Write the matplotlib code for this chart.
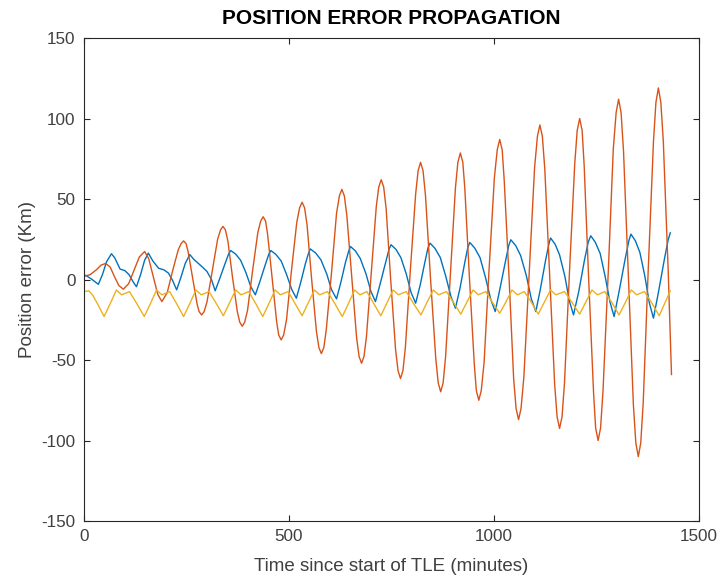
import matplotlib
matplotlib.use("Agg")
import matplotlib.pyplot as plt

plt.rcParams["font.family"] = ["Liberation Sans", "DejaVu Sans"]
plt.rcParams["axes.unicode_minus"] = False

# (time in minutes, position error in km)
blue_pts = [
    (0, 3), (8, 2), (20, 0), (35, -3), (45, 3), (55, 11), (67, 16), (75, 13.5),
    (88, 6.5), (100, 5.5), (110, 3), (120, -1.5), (128, -4.5), (138, 3), (148, 12),
    (157, 16.4), (168, 11.5), (182, 7), (195, 6), (206, 4), (216, -0.5), (226, -6.4),
    (236, 1), (247, 10), (258, 15.5), (268, 12.5), (279, 10), (290, 7.5), (300, 5),
    (311, 0), (320, -7),
    (331, 0.5), (345, 10.5), (353, 16), (358, 18),
    (370, 15.8), (382, 12), (395, 4.3), (407, -4.5), (418, -9.5),
    (429, -1.3), (443, 9.8), (451, 15.8), (456, 18),
    (468, 15.6), (481, 11.5), (494, 3.2), (507, -6.3), (518, -11.6),
    (528, -2.4), (540, 9.8), (548, 16.6), (552, 19),
    (565, 16.5), (578, 12.2), (592, 3.5), (604, -6.4), (616, -12),
    (626, -2.3), (638, 10.8), (646, 17.9), (650, 20.5),
    (662, 17.8), (674, 13), (688, 3.4), (700, -7.5), (711, -13.7),
    (722, -3.1), (736, 11), (744, 18.8), (749, 21.6),
    (761, 18.7), (773, 13.6), (786, 3.5), (798, -8.2), (809, -14.7),
    (820, -3.5), (832, 11.4), (839, 19.6), (844, 22.6),
    (856, 19.4), (869, 13.7), (882, 2.4), (895, -10.5), (906, -17.8),
    (917, -5.6), (929, 10.8), (936, 19.7), (941, 23),
    (953, 19.6), (966, 13.6), (979, 1.6), (992, -12.2), (1003, -19.9),
    (1014, -6.5), (1028, 11.3), (1036, 21.1), (1041, 24.7),
    (1053, 21.1), (1065, 14.9), (1079, 2.4), (1091, -11.9), (1102, -19.9),
    (1113, -6.2), (1126, 12.1), (1134, 22.1), (1138, 25.8),
    (1149, 22), (1160, 15.3), (1173, 1.9), (1184, -13.4), (1194, -22),
    (1207, -7.2), (1221, 12.4), (1230, 23.3), (1236, 27.2),
    (1247, 23.2), (1259, 16.2), (1271, 2.1), (1283, -14), (1293, -23),
    (1305, -7.6), (1320, 12.8), (1329, 24.1), (1334, 28.2),
    (1345, 24), (1356, 16.7), (1368, 2.1), (1379, -14.6), (1389, -24),
    (1401, -8.1), (1416, 13.1), (1425, 24.8), (1430, 29),
]

orange_pts = [
    (0, 2), (15, 3), (30, 6), (42, 9), (53, 10),
    (64, 7.7), (74, 2), (85, -3.7), (96, -6),
    (109, -2.6), (122, 5.7), (135, 14), (148, 17.4),
    (158, 12.9), (169, 1.9), (180, -9.2), (190, -13.7),
    (203, -8.2), (216, 5.2), (230, 18.5), (237, 22.3), (243, 24), (249, 22.3),
    (254, 17.3), (265, 1), (276, -15.3), (281, -20), (287, -22), (293, -20),
    (300, -14), (313, 5.5), (326, 25), (333, 30.8), (339, 33), (345, 30.8),
    (351, 23.9), (362, 2), (374, -19.9), (380, -26.5), (386, -29), (392, -26.5),
    (399, -19.1), (411, 5), (424, 29.1), (431, 36.3), (437, 39), (443, 36.3),
    (448, 27.8), (459, 0.8), (470, -26.3), (475, -34.5), (481, -37.5), (487, -34.5),
    (494, -25), (506, 5.3), (519, 35.5), (526, 44.6), (532, 48), (538, 44.6),
    (544, 34.3), (555, 1), (567, -32.3), (573, -42.3), (579, -46), (585, -42.3),
    (591, -31.1), (604, 5), (616, 41.1), (623, 52), (629, 56), (635, 52),
    (641, 40.2), (653, 2), (665, -36.2), (671, -47.8), (677, -52), (683, -47.8),
    (689, -35.4), (701, 5), (713, 45.4), (719, 57.5), (725, 62), (731, 57.5),
    (737, 44), (748, 0.3), (760, -43.5), (766, -56.6), (772, -61.5), (778, -56.6),
    (784, -41.9), (796, 5.7), (809, 53.2), (815, 67.6), (821, 72.8), (827, 67.6),
    (833, 52), (845, 1.6), (858, -48.9), (864, -64.2), (870, -69.7), (876, -64.2),
    (882, -48), (894, 4.5), (906, 56.9), (912, 72.9), (918, 78.6), (924, 72.9),
    (929, 56.2), (940, 1.8), (952, -52.6), (957, -69), (963, -75), (969, -69),
    (976, -51.3), (988, 6), (1001, 63.3), (1008, 80.6), (1014, 87), (1020, 80.6),
    (1025, 61.6), (1037, 0), (1048, -61.6), (1054, -80.2), (1060, -87), (1066, -80.2),
    (1073, -60.3), (1086, 4.5), (1099, 69.3), (1106, 89), (1112, 96), (1118, 89),
    (1124, 68.5), (1136, 1.8), (1148, -65), (1154, -85.3), (1160, -92.5), (1166, -85.3),
    (1172, -64.4), (1184, 3.8), (1197, 71.9), (1203, 92.6), (1209, 100), (1215, 92.6),
    (1220, 70.8), (1231, 0), (1243, -70.8), (1248, -92.2), (1254, -100), (1260, -92.2),
    (1266, -69), (1279, 6), (1291, 81), (1298, 103.8), (1304, 112), (1310, 103.8),
    (1316, 79.6), (1328, 1), (1340, -77.6), (1346, -101.5), (1352, -110), (1358, -101.5),
    (1364, -76.6), (1376, 4.5), (1389, 85.6), (1395, 110), (1401, 119), (1407, 110),
    (1413, 86), (1425, 5), (1433, -59),
]

yellow_pts = [
    (0, -7.5), (12, -7), (22, -10), (35, -16), (49, -23),
    (64, -15), (79, -6.5), (92, -9.5), (111, -7.5), (129, -15), (147, -23),
    (162, -15), (177, -6.5), (190, -9.5), (209, -7.5), (226, -15), (243, -23),
    (258, -15), (273, -6.5), (286, -9.5), (305, -7.5), (323, -15), (340, -22.5),
    (355, -14.5), (370, -6.5), (383, -9.5), (402, -7.5), (419, -15), (436, -23),
    (451, -15), (466, -6.5), (479, -9.5), (498, -7.5), (515, -15), (532, -22.5),
    (547, -14.5), (562, -6.5), (575, -9.5), (594, -7.5), (612, -15), (630, -23),
    (645, -15), (660, -6.5), (673, -9.5), (690, -7.5), (707, -15), (724, -22.5),
    (739, -14.5), (754, -6.5), (767, -9.5), (786, -7.5), (804, -15), (822, -22),
    (837, -14), (852, -6.5), (865, -9.5), (884, -7.5), (902, -14.5), (919, -21.5),
    (934, -14), (949, -6.5), (962, -9.5), (980, -7.5), (997, -14.5), (1014, -21),
    (1029, -14), (1044, -6.5), (1057, -9.5), (1074, -7.5), (1091, -14), (1108, -21.5),
    (1123, -14), (1138, -6.5), (1151, -9.5), (1172, -7.5), (1191, -14.5), (1209, -21.5),
    (1224, -14), (1239, -6.5), (1252, -9.5), (1270, -7.5), (1288, -14.5), (1305, -22),
    (1320, -14.5), (1335, -6.5), (1348, -9.5), (1367, -7.5), (1386, -15), (1403, -22.5),
    (1417, -14.5), (1430, -7),
]

x_ticks = [0, 500, 1000, 1500]
y_ticks = [-150, -100, -50, 0, 50, 100, 150]

# matlab default colour order
series = [
    (blue_pts, "#0072BD"),
    (orange_pts, "#D95319"),
    (yellow_pts, "#EDB120"),
]

fig = plt.figure(figsize=(7.22, 5.78), dpi=100)
ax = fig.add_axes([0.1163, 0.0986, 0.8518, 0.8356])

for pts, color in series:
    t, y = zip(*pts)
    ax.plot(t, y, color=color, linewidth=1.0)

ax.set_xlim(0, 1500)
ax.set_ylim(-150, 150)
ax.set_xticks(x_ticks)
ax.set_yticks(y_ticks)

text_gray = "#404040"
ax.tick_params(direction="in", top=True, right=True, length=4, width=0.8,
               colors="#262626", labelcolor=text_gray, labelsize=12.3, pad=6)
for sp in ax.spines.values():
    sp.set_color("#262626")
    sp.set_linewidth(0.8)

ax.set_xlabel("Time since start of TLE (minutes)", fontsize=13.5, color=text_gray, labelpad=10)
ax.set_ylabel("Position error (Km)", fontsize=13.5, color=text_gray, labelpad=4)
ax.set_title("POSITION ERROR PROPAGATION", fontsize=15, fontweight="bold", color="black", pad=10)

fig.savefig("out.png", dpi=100)
